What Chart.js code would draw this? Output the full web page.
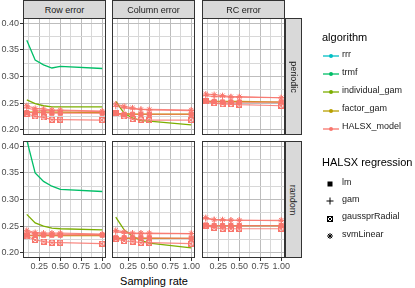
<!DOCTYPE html>
<html>
<head>
<meta charset="utf-8">
<script src="https://cdn.jsdelivr.net/npm/chart.js@4.4.1/dist/chart.umd.min.js"></script>
<style>
body { margin: 0; width: 415px; height: 288px; overflow: hidden; background: #fff; position: relative;
       font-family: "Liberation Sans", Arial, sans-serif; }
canvas { position: absolute; }
.strip { position: absolute; background: #d9d9d9; border: 1px solid #333; box-sizing: border-box;
         color: #1a1a1a; font-size: 9px; display: flex; align-items: center; justify-content: center; }
.strip span.rot { transform: rotate(90deg); white-space: nowrap; }
.lg { position: absolute; font-size: 9px; color: #1a1a1a; white-space: nowrap; line-height: 11px; }
.lgt { position: absolute; font-size: 11px; color: #000; white-space: nowrap; line-height: 13px; }
.key { position: absolute; }
#xtitle { position: absolute; left: 23px; width: 262px; top: 275px; text-align: center; font-size: 11px; color: #000; }
</style>
</head>
<body>
<div id="xtitle">Sampling rate</div>
<script>
// x values shared by every series
var SAMPLING_RATE = [0.1, 0.2, 0.3, 0.4, 0.5, 1.0];

// axis ticks (major get a label, minor only a grid line)
var X_MAJOR = [0.25, 0.50, 0.75, 1.00];
var X_MINOR = [0.125, 0.375, 0.625, 0.875];
var Y_MAJOR = [0.20, 0.25, 0.30, 0.35, 0.40];
var Y_MINOR = [0.225, 0.275, 0.325, 0.375];

var COL_NAMES = ["Row error", "Column error", "RC error"];
var ROW_NAMES = ["periodic", "random"];
var ALGORITHMS = ["rrr", "trmf", "individual_gam", "factor_gam", "HALSX_model"];
var REGRESSIONS = ["lm", "gam", "gaussprRadial", "svmLinear"];

/* periodic - Row error */
var trmf_per_row      = [0.368, 0.331, 0.322, 0.316, 0.319, 0.315];
var indgam_per_row    = [0.256, 0.249, 0.245, 0.243, 0.243, 0.243];
var facgam_per_row    = [0.233, 0.233, 0.233, 0.233, 0.233, 0.232];
var lm_per_row        = [0.232, 0.232, 0.232, 0.231, 0.231, 0.231];
var gam_per_row       = [0.241, 0.237, 0.236, 0.236, 0.236, 0.234];
var gauss_per_row     = [0.230, 0.225, 0.223, 0.219, 0.219, 0.218];
var svm_per_row       = [0.245, 0.240, 0.239, 0.237, 0.237, 0.235];
/* periodic - Column error */
var indgam_per_col    = [0.253, 0.231, 0.222, 0.217, 0.216, 0.209];
var facgam_per_col    = [0.230, 0.230, 0.229, 0.229, 0.229, 0.229];
var lm_per_col        = [0.231, 0.229, 0.229, 0.229, 0.229, 0.229];
var gam_per_col       = [0.244, 0.241, 0.239, 0.238, 0.237, 0.236];
var gauss_per_col     = [0.231, 0.225, 0.220, 0.219, 0.218, 0.218];
var svm_per_col       = [0.248, 0.244, 0.241, 0.238, 0.238, 0.237];
/* periodic - RC error */
var facgam_per_rc     = [0.253, 0.253, 0.253, 0.253, 0.253, 0.252];
var lm_per_rc         = [0.254, 0.253, 0.252, 0.252, 0.252, 0.252];
var gam_per_rc        = [0.264, 0.262, 0.262, 0.261, 0.261, 0.260];
var gauss_per_rc      = [0.253, 0.250, 0.248, 0.248, 0.247, 0.245];
var svm_per_rc        = [0.267, 0.266, 0.264, 0.262, 0.262, 0.260];
/* random - Row error */
var trmf_ran_row      = [0.412, 0.350, 0.334, 0.325, 0.319, 0.315];
var indgam_ran_row    = [0.272, 0.256, 0.250, 0.246, 0.245, 0.243];
var facgam_ran_row    = [0.232, 0.232, 0.232, 0.232, 0.232, 0.232];
var lm_ran_row        = [0.233, 0.233, 0.233, 0.233, 0.233, 0.233];
var gam_ran_row       = [0.239, 0.236, 0.235, 0.235, 0.235, 0.234];
var gauss_ran_row     = [0.231, 0.224, 0.221, 0.219, 0.219, 0.217];
var svm_ran_row       = [0.242, 0.238, 0.237, 0.237, 0.237, 0.235];
/* random - Column error */
var indgam_ran_col    = [0.267, 0.243, 0.231, 0.223, 0.218, 0.209];
var facgam_ran_col    = [0.227, 0.227, 0.227, 0.227, 0.227, 0.227];
var lm_ran_col        = [0.228, 0.228, 0.228, 0.228, 0.228, 0.227];
var gam_ran_col       = [0.239, 0.237, 0.236, 0.236, 0.236, 0.236];
var gauss_ran_col     = [0.226, 0.222, 0.221, 0.219, 0.219, 0.217];
var svm_ran_col       = [0.242, 0.239, 0.237, 0.237, 0.237, 0.236];
/* random - RC error */
var facgam_ran_rc     = [0.251, 0.251, 0.251, 0.251, 0.251, 0.251];
var lm_ran_rc         = [0.252, 0.251, 0.251, 0.251, 0.251, 0.251];
var gam_ran_rc        = [0.264, 0.262, 0.261, 0.261, 0.261, 0.260];
var gauss_ran_rc      = [0.251, 0.247, 0.245, 0.245, 0.245, 0.245];
var svm_ran_rc        = [0.266, 0.262, 0.262, 0.261, 0.261, 0.261];

var ALGO_COLORS = { rrr: "#00BFC4", trmf: "#00BE67", individual_gam: "#7CAE00", factor_gam: "#B9A000", HALSX_model: "#F8766D" };

// panels: [row][col], null = series not in view
var PANELS = [
  [ { trmf: trmf_per_row, individual_gam: indgam_per_row, factor_gam: facgam_per_row,
      lm: lm_per_row, gam: gam_per_row, gaussprRadial: gauss_per_row, svmLinear: svm_per_row },
    { trmf: null, individual_gam: indgam_per_col, factor_gam: facgam_per_col,
      lm: lm_per_col, gam: gam_per_col, gaussprRadial: gauss_per_col, svmLinear: svm_per_col },
    { trmf: null, individual_gam: null, factor_gam: facgam_per_rc,
      lm: lm_per_rc, gam: gam_per_rc, gaussprRadial: gauss_per_rc, svmLinear: svm_per_rc } ],
  [ { trmf: trmf_ran_row, individual_gam: indgam_ran_row, factor_gam: facgam_ran_row,
      lm: lm_ran_row, gam: gam_ran_row, gaussprRadial: gauss_ran_row, svmLinear: svm_ran_row },
    { trmf: null, individual_gam: indgam_ran_col, factor_gam: facgam_ran_col,
      lm: lm_ran_col, gam: gam_ran_col, gaussprRadial: gauss_ran_col, svmLinear: svm_ran_col },
    { trmf: null, individual_gam: null, factor_gam: facgam_ran_rc,
      lm: lm_ran_rc, gam: gam_ran_rc, gaussprRadial: gauss_ran_rc, svmLinear: svm_ran_rc } ]
];

// layout
var PANEL_L = [23, 112, 202];
var PANEL_T = [18, 141];
var PANEL_W = 83, PANEL_H = 117;
var YAXIS_W = 23, XAXIS_H = 16, LABEL_OVERHANG = 10;
var GRID_MAJOR = "#bdbdbd", GRID_MINOR = "#d8d8d8", BORDER = "#333333";
var FONT = "'Liberation Sans', Arial, sans-serif";

/* square-with-x marker (ggplot shape 7) */
function makeBoxX(color, size) {
  var c = document.createElement("canvas");
  c.width = size; c.height = size;
  var g = c.getContext("2d");
  g.strokeStyle = color; g.lineWidth = 1;
  g.strokeRect(0.5, 0.5, size - 1, size - 1);
  g.beginPath();
  g.moveTo(0.5, 0.5); g.lineTo(size - 0.5, size - 0.5);
  g.moveTo(size - 0.5, 0.5); g.lineTo(0.5, size - 0.5);
  g.stroke();
  return c;
}
var BOXX = makeBoxX(ALGO_COLORS.HALSX_model, 6);

var POINT_STYLE = { lm: "rect", gam: "cross", gaussprRadial: BOXX, svmLinear: "star" };

function toXY(vals) {
  return SAMPLING_RATE.map(function (x, i) { return { x: x, y: vals[i] }; });
}

function isMajor(v, step) {
  var r = v / step;
  return Math.abs(r - Math.round(r)) < 1e-6;
}

var panelBorder = {
  id: "panelBorder",
  afterDatasetsDraw: function (chart) {
    var a = chart.chartArea, ctx = chart.ctx;
    ctx.save();
    ctx.strokeStyle = BORDER; ctx.lineWidth = 1;
    ctx.strokeRect(a.left + 0.5, a.top + 0.5, a.right - a.left - 1, a.bottom - a.top - 1);
    ctx.restore();
  }
};

function buildPanel(r, c) {
  var p = PANELS[r][c];
  var left = c === 0, bottom = r === 1;
  var cv = document.createElement("canvas");
  var padR = bottom ? LABEL_OVERHANG : 0;
  var w = PANEL_W + (left ? YAXIS_W : 0) + padR;
  var h = PANEL_H + (bottom ? XAXIS_H : 0);
  cv.width = w; cv.height = h;
  cv.style.left = (PANEL_L[c] - (left ? YAXIS_W : 0)) + "px";
  cv.style.top = PANEL_T[r] + "px";
  document.body.appendChild(cv);

  var datasets = [];
  // HALSX_model lines with regression markers
  REGRESSIONS.forEach(function (reg) {
    if (!p[reg]) return;
    datasets.push({
      label: reg, data: toXY(p[reg]),
      borderColor: "rgba(248,118,109,0.85)", borderWidth: 1.2,
      pointStyle: POINT_STYLE[reg], pointRadius: 3,
      pointBackgroundColor: ALGO_COLORS.HALSX_model, pointBorderColor: ALGO_COLORS.HALSX_model,
      pointBorderWidth: 1
    });
  });
  ["factor_gam", "individual_gam", "trmf", "rrr"].forEach(function (alg) {
    if (!p[alg]) return;
    datasets.push({
      label: alg, data: toXY(p[alg]),
      borderColor: ALGO_COLORS[alg], borderWidth: 1.3, pointRadius: 0
    });
  });

  new Chart(cv, {
    type: "line",
    data: { datasets: datasets },
    plugins: [panelBorder],
    options: {
      responsive: false, animation: false,
      layout: { padding: { left: 0, top: 0, bottom: 0, right: padR }, autoPadding: false },
      plugins: { legend: { display: false }, tooltip: { enabled: false } },
      elements: { line: { tension: 0 } },
      scales: {
        x: {
          type: "linear", min: 0.055, max: 1.045,
          afterBuildTicks: function (s) {
            s.ticks = X_MINOR.concat(X_MAJOR).sort(function (a, b) { return a - b; })
              .map(function (v) { return { value: v }; });
          },
          afterFit: function (s) { s.height = bottom ? XAXIS_H : 0; s.paddingLeft = 0; s.paddingRight = 0; },
          ticks: {
            display: bottom, autoSkip: false, maxRotation: 0, padding: 0,
            color: "#4d4d4d", font: { family: FONT, size: 9 },
            callback: function (v) { return isMajor(v, 0.25) ? v.toFixed(2) : ""; }
          },
          grid: {
            color: function (ctx) { return isMajor(ctx.tick.value, 0.25) ? GRID_MAJOR : GRID_MINOR; },
            lineWidth: 1, drawTicks: bottom, tickLength: 3,
            tickColor: function (ctx) { return isMajor(ctx.tick.value, 0.25) ? BORDER : "rgba(0,0,0,0)"; }
          },
          border: { display: false }
        },
        y: {
          type: "linear", min: 0.19, max: 0.41,
          afterBuildTicks: function (s) {
            s.ticks = Y_MINOR.concat(Y_MAJOR).sort(function (a, b) { return a - b; })
              .map(function (v) { return { value: v }; });
          },
          afterFit: function (s) { s.width = left ? YAXIS_W : 0; s.paddingTop = 0; s.paddingBottom = 0; },
          ticks: {
            display: left, autoSkip: false, padding: 1,
            color: "#4d4d4d", font: { family: FONT, size: 9 },
            callback: function (v) { return isMajor(v, 0.05) ? v.toFixed(2) : ""; }
          },
          grid: {
            color: function (ctx) { return isMajor(ctx.tick.value, 0.05) ? GRID_MAJOR : GRID_MINOR; },
            lineWidth: 1, drawTicks: left, tickLength: 3,
            tickColor: function (ctx) { return isMajor(ctx.tick.value, 0.05) ? BORDER : "rgba(0,0,0,0)"; }
          },
          border: { display: false }
        }
      }
    }
  });
}

for (var r = 0; r < 2; r++) for (var c = 0; c < 3; c++) buildPanel(r, c);

/* strips */
function addDiv(cls, x, y, w, h, html) {
  var d = document.createElement("div");
  d.className = cls;
  d.style.left = x + "px"; d.style.top = y + "px";
  if (w) d.style.width = w + "px";
  if (h) d.style.height = h + "px";
  d.innerHTML = html;
  document.body.appendChild(d);
  return d;
}
COL_NAMES.forEach(function (n, c) { addDiv("strip", PANEL_L[c], 0, PANEL_W, PANEL_T[0] + 1, "<span>" + n + "</span>"); });
ROW_NAMES.forEach(function (n, r) { addDiv("strip", PANEL_L[2] + PANEL_W, PANEL_T[r], 17, PANEL_H, "<span class='rot'>" + n + "</span>"); });

/* legends */
addDiv("lgt", 322, 31, 0, 0, "algorithm");
ALGORITHMS.forEach(function (a, i) {
  var cy = 54 + i * 18.2;
  addDiv("key", 322, cy - 6, 18, 12,
    "<svg width='18' height='12'><line x1='1' y1='6' x2='17' y2='6' stroke='" + ALGO_COLORS[a] +
    "' stroke-width='1.3'/><circle cx='9' cy='6' r='2' fill='" + ALGO_COLORS[a] + "'/></svg>");
  addDiv("lg", 342, cy - 5.5, 0, 0, a);
});
addDiv("lgt", 322, 156, 0, 0, "HALSX regression");
var KEY_SVG = {
  lm: "<rect x='6.5' y='3.5' width='5' height='5' fill='#000'/>",
  gam: "<path d='M5.5 6H12.5M9 2.5V9.5' stroke='#000' stroke-width='1'/>",
  gaussprRadial: "<rect x='6.5' y='3.5' width='5' height='5' fill='none' stroke='#000' stroke-width='1'/><path d='M6.5 3.5L11.5 8.5M11.5 3.5L6.5 8.5' stroke='#000' stroke-width='1'/>",
  svmLinear: "<path d='M9 3V9M6 6H12M6.9 3.9L11.1 8.1M11.1 3.9L6.9 8.1' stroke='#000' stroke-width='1'/>"
};
REGRESSIONS.forEach(function (g, i) {
  var cy = 182 + i * 17.4;
  addDiv("key", 321, cy - 6, 18, 12, "<svg width='18' height='12'>" + KEY_SVG[g] + "</svg>");
  addDiv("lg", 342, cy - 5.5, 0, 0, g);
});
</script>
</body>
</html>
